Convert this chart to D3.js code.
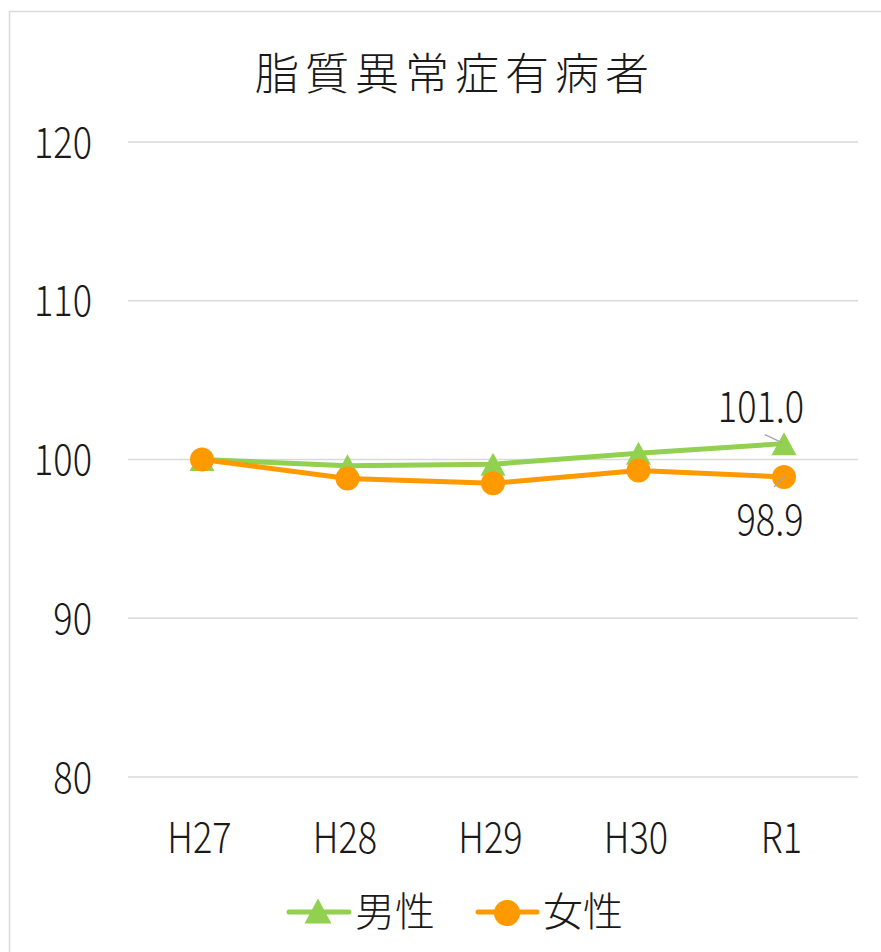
<!DOCTYPE html>
<html>
<head>
<meta charset="utf-8">
<script src="https://cdn.jsdelivr.net/npm/d3@7"></script>
<style>
  html, body { margin: 0; padding: 0; background: #fff; }
  svg { display: block; }
  text { fill: #1a1a1a; }
  .cjk { font-family: "Noto Sans CJK JP", sans-serif; font-weight: 300; }
  .num { font-family: "Noto Sans CJK JP", sans-serif; font-weight: 300; }
</style>
</head>
<body>
<svg id="chart" width="881" height="952"></svg>
<script>
const categories = ["H27", "H28", "H29", "H30", "R1"];
const male = [100.0, 99.6, 99.7, 100.4, 101.0];
const female = [100.0, 98.8, 98.5, 99.3, 98.9];
const yTicks = [80, 90, 100, 110, 120];
const title = "脂質異常症有病者";
const seriesNames = ["男性", "女性"];

const svg = d3.select("#chart");
const W = 881, H = 952;
const numScale = "scale(0.86,1)";
const numSize = "42px";

// chart border
svg.append("rect").attr("x", 9.5).attr("y", 11.5).attr("width", W + 10).attr("height", H + 10)
  .attr("fill", "#fff").attr("stroke", "#d9d9d9").attr("stroke-width", 1.5);

const x = d3.scalePoint().domain(categories).range([202, 784]);
const y = d3.scaleLinear().domain([80, 120]).range([777, 142]);

// title
svg.append("text").attr("class", "cjk").attr("x", 455).attr("y", 90).attr("text-anchor", "middle")
  .style("font-size", "44px").style("letter-spacing", "6px").text(title);

// gridlines
svg.append("g").selectAll("line").data(yTicks).join("line")
  .attr("x1", 128).attr("x2", 858)
  .attr("y1", d => y(d)).attr("y2", d => y(d))
  .attr("stroke", "#d9d9d9").attr("stroke-width", 1.5);

// y axis labels
const yAxis = d3.axisLeft(y).tickValues(yTicks).tickSize(0).tickPadding(0);
const gy = svg.append("g").attr("transform", "translate(92,0)").call(yAxis);
gy.select(".domain").remove();
gy.selectAll("text").attr("class", "num").attr("font-family", null).attr("font-size", null)
  .style("font-size", numSize).attr("dy", "0.36em").attr("fill", "#1a1a1a").attr("transform", numScale);

// x axis labels
const xAxis = d3.axisBottom(x).tickSize(0).tickPadding(0);
const gx = svg.append("g").attr("transform", "translate(0,821)").call(xAxis);
gx.select(".domain").remove();
gx.selectAll("text").attr("class", "num").attr("font-family", null).attr("font-size", null)
  .style("font-size", numSize).attr("dy", "0.76em").attr("fill", "#1a1a1a")
  .attr("transform", "translate(-3,0) " + numScale);

const line = d3.line().x((d, i) => x(categories[i])).y(d => y(d));
const green = "#92d050", orange = "#ff9900";

// triangle marker, bounding box centred on the point
const tri = (w, h) => `M0,${-h / 2}L${w / 2},${h / 2}L${-w / 2},${h / 2}Z`;

// male series
svg.append("path").datum(male).attr("d", line).attr("fill", "none")
  .attr("stroke", green).attr("stroke-width", 5).attr("stroke-linejoin", "round");
svg.append("g").selectAll("path").data(male).join("path")
  .attr("d", tri(25, 23)).attr("fill", green)
  .attr("transform", (d, i) => `translate(${x(categories[i])},${y(d)})`);

// female series
svg.append("path").datum(female).attr("d", line).attr("fill", "none")
  .attr("stroke", orange).attr("stroke-width", 5).attr("stroke-linejoin", "round");
svg.append("g").selectAll("circle").data(female).join("circle")
  .attr("cx", (d, i) => x(categories[i])).attr("cy", d => y(d))
  .attr("r", 12).attr("fill", orange);

// data labels for the last point
const last = categories.length - 1;
const lx = x(categories[last]);
svg.append("line").attr("x1", lx - 19).attr("y1", y(male[last]) - 9)
  .attr("x2", lx - 2).attr("y2", y(male[last]) - 1).attr("stroke", "#a6a6a6").attr("stroke-width", 1.3);
svg.append("text").attr("class", "num").attr("text-anchor", "middle")
  .attr("transform", `translate(${lx - 23},${y(male[last]) - 22}) ${numScale}`)
  .style("font-size", numSize).text(male[last].toFixed(1));
svg.append("line").attr("x1", lx - 10).attr("y1", y(female[last]) + 10)
  .attr("x2", lx + 1).attr("y2", y(female[last]) - 1).attr("stroke", "#a6a6a6").attr("stroke-width", 1.3);
svg.append("text").attr("class", "num").attr("text-anchor", "middle")
  .attr("transform", `translate(${lx - 14},${y(female[last]) + 58}) ${numScale}`)
  .style("font-size", numSize).text(female[last].toFixed(1));

// legend
const leg = svg.append("g").attr("transform", "translate(0,912)");
leg.append("line").attr("x1", 289).attr("x2", 349).attr("stroke", green).attr("stroke-width", 5).attr("stroke-linecap", "round");
leg.append("path").attr("d", tri(27, 25)).attr("fill", green).attr("transform", "translate(318,-1)");
leg.append("text").attr("class", "cjk").attr("x", 355).attr("y", 0).attr("dy", "0.36em").style("font-size", "40px").text(seriesNames[0]);
leg.append("line").attr("x1", 478).attr("x2", 537).attr("stroke", orange).attr("stroke-width", 5).attr("stroke-linecap", "round");
leg.append("circle").attr("cx", 507).attr("cy", 1).attr("r", 13).attr("fill", orange);
leg.append("text").attr("class", "cjk").attr("x", 543).attr("y", 0).attr("dy", "0.36em").style("font-size", "40px").text(seriesNames[1]);
</script>
</body>
</html>
